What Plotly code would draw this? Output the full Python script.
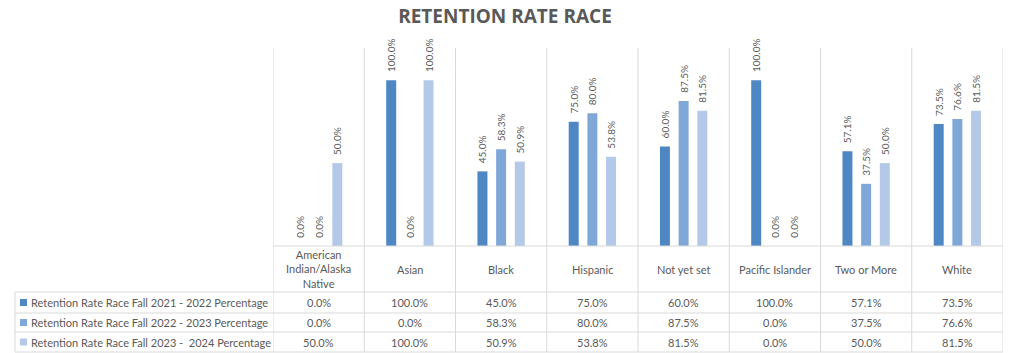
import plotly.graph_objects as go

categories = ["American Indian/Alaska Native", "Asian", "Black", "Hispanic",
              "Not yet set", "Pacific Islander", "Two or More", "White"]
cat_labels = ["American<br>Indian/Alaska<br>Native", "Asian", "Black", "Hispanic",
              "Not yet set", "Pacific Islander", "Two or More", "White"]
series_names = ["Retention Rate Race Fall 2021 - 2022 Percentage",
                "Retention Rate Race Fall 2022 - 2023 Percentage",
                "Retention Rate Race Fall 2023 -\u00a0 2024 Percentage"]
s2122 = [0.0, 100.0, 45.0, 75.0, 60.0, 100.0, 57.1, 73.5]
s2223 = [0.0, 0.0, 58.3, 80.0, 87.5, 0.0, 37.5, 76.6]
s2324 = [50.0, 100.0, 50.9, 53.8, 81.5, 0.0, 50.0, 81.5]
series = [s2122, s2223, s2324]
colors = ["#4F87C4", "#7FA8D9", "#B4C9E7"]

W, H = 1010, 353
L, R, T, B = 273, 1003, 47, 246
pw, ph = R - L, B - T
TXT = "#595959"
GRID = "#D9D9D9"
FONT = "Lato"

def px(x):
    return (x - L) / pw

def py(y):
    return (B - y) / ph

fig = go.Figure()
for name, vals, c in zip(series_names, series, colors):
    fig.add_trace(go.Bar(
        x=categories, y=[v / 100 for v in vals], name=name,
        marker=dict(color=c, line=dict(width=0)),
        texttemplate="\u00a0\u00a0%{y:.1%}", textposition="outside", textangle=-90,
        constraintext="none", cliponaxis=False,
        textfont=dict(family=FONT, size=10, color=TXT),
    ))

shapes = []
n = len(categories)
# vertical grid / table column lines
for i in range(n + 1):
    shapes.append(dict(type="line", xref="x", yref="paper",
                       x0=i - 0.5, x1=i - 0.5, y0=py(352), y1=py(48),
                       line=dict(color=GRID, width=1)))
# horizontal table lines
shapes.append(dict(type="line", xref="paper", yref="paper", x0=px(L), x1=px(R),
                   y0=py(246), y1=py(246), line=dict(color=GRID, width=1)))
for yy in [292, 313, 332, 352]:
    shapes.append(dict(type="line", xref="paper", yref="paper", x0=px(15), x1=px(R),
                       y0=py(yy), y1=py(yy), line=dict(color=GRID, width=1)))
shapes.append(dict(type="line", xref="paper", yref="paper", x0=px(15), x1=px(15),
                   y0=py(292), y1=py(352), line=dict(color=GRID, width=1)))

row_centers = [302.5, 322.5, 342]
annotations = []
for i, lab in enumerate(cat_labels):
    annotations.append(dict(x=i, y=py(269), xref="x", yref="paper", text=lab,
                            showarrow=False, font=dict(family=FONT, size=11, color=TXT),
                            xanchor="center", yanchor="middle"))
for r, (name, vals, c) in enumerate(zip(series_names, series, colors)):
    yc = row_centers[r]
    shapes.append(dict(type="rect", xref="paper", yref="paper",
                       x0=px(20), x1=px(27), y0=py(yc + 3.5), y1=py(yc - 3.5),
                       fillcolor=c, line=dict(width=0)))
    annotations.append(dict(x=px(29), y=py(yc), xref="paper", yref="paper", text=name,
                            showarrow=False, xanchor="left", yanchor="middle",
                            font=dict(family=FONT, size=11, color=TXT)))
    for i, v in enumerate(vals):
        annotations.append(dict(x=i, y=py(yc), xref="x", yref="paper", text=f"{v:.1f}%",
                                showarrow=False, xanchor="center", yanchor="middle",
                                font=dict(family=FONT, size=11, color=TXT)))

fig.update_layout(
    width=W, height=H,
    margin=dict(l=L, r=W - R, t=T, b=H - B),
    paper_bgcolor="white", plot_bgcolor="white",
    showlegend=False,
    barmode="group", bargap=0.386, bargroupgap=0.465,
    title=dict(text="<b>RETENTION RATE RACE</b>", x=0.5, xref="container", xanchor="center",
               y=1 - 16 / H, yref="container", yanchor="middle",
               font=dict(family="Open Sans", size=19, color=TXT)),
    xaxis=dict(range=[-0.5, n - 0.5], showticklabels=False, showgrid=False,
               zeroline=False, showline=False, fixedrange=True),
    yaxis=dict(range=[0, 1.2], showticklabels=False, showgrid=False,
               zeroline=False, showline=False, fixedrange=True),
    shapes=shapes, annotations=annotations,
)
fig.write_html("out.html")
